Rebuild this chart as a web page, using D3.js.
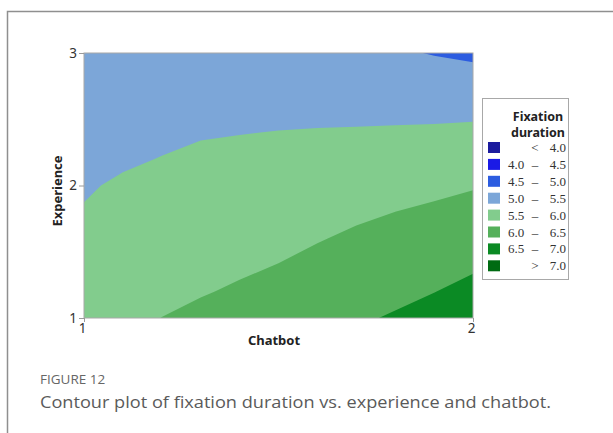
<!DOCTYPE html>
<html><head><meta charset="utf-8">
<script src="https://cdn.jsdelivr.net/npm/d3@7"></script>
<style>body{margin:0;background:#fff}</style>
</head><body>
<svg id="c" width="613" height="433"></svg>
<script>
// ---- data ----
const chatbot = [1.0,1.1,1.2,1.3,1.4,1.5,1.6,1.7,1.8,1.9,2.0];
const experience = [1.0,1.2,1.4,1.6,1.8,2.0,2.2,2.4,2.6,2.8,3.0];
// fixation[j][i] : value at experience[j], chatbot[i]
const fixation = [
 [5.83,5.915,6.003,6.09,6.18,6.27,6.36,6.445,6.54,6.64,6.72],
 [5.75,5.835,5.920,5.973,6.047,6.138,6.231,6.318,6.40,6.493,6.60],
 [5.67,5.755,5.838,5.888,5.941,6.007,6.103,6.191,6.267,6.35,6.45],
 [5.59,5.675,5.755,5.804,5.850,5.905,5.977,6.064,6.133,6.207,6.30],
 [5.51,5.596,5.673,5.719,5.759,5.805,5.862,5.933,6.001,6.064,6.14],
 [5.483,5.522,5.591,5.635,5.668,5.705,5.747,5.799,5.848,5.905,5.97],
 [5.462,5.478,5.505,5.548,5.577,5.605,5.632,5.664,5.697,5.733,5.79],
 [5.44,5.451,5.465,5.479,5.492,5.507,5.519,5.530,5.545,5.560,5.59],
 [5.42,5.424,5.427,5.426,5.420,5.413,5.405,5.394,5.383,5.373,5.37],
 [5.40,5.397,5.388,5.373,5.350,5.322,5.292,5.257,5.217,5.176,5.15],
 [5.38,5.37,5.35,5.32,5.28,5.23,5.18,5.12,5.05,4.98,4.92]
];
const thresholds = [4.0,4.5,5.0,5.5,6.0,6.5,7.0];
const legendLow  = ["", "4.0","4.5","5.0","5.5","6.0","6.5",""];
const legendSym  = ["<", "\u2013","\u2013","\u2013","\u2013","\u2013","\u2013",">"];
const legendHigh = ["4.0","4.5","5.0","5.5","6.0","6.5","7.0","7.0"];
const bandColors = ["#1b1b9e","#1a1ae6","#2c5ce0","#7ca6d8","#82cc8d","#55b05b","#0b8a24","#006b12"];
const xTicks = [1,2], yTicks = [1,2,3];

// ---- drawing ----
const svg = d3.select("#c");
const L=84, R=473, T=53, B=318;
const x = d3.scaleLinear().domain([1,2]).range([L,R]);
const y = d3.scaleLinear().domain([1,3]).range([B,T]);

// figure frame
svg.append("path").attr("d","M7.5,433V11.5H613").attr("fill","none")
  .attr("stroke","#8f8f8f").attr("stroke-width",1.5);

const n = chatbot.length, m = experience.length;
const flat = fixation.flat();
const gx = d3.scaleLinear().domain([0.5, n-0.5]).range([chatbot[0], chatbot[n-1]]);
const gy = d3.scaleLinear().domain([0.5, m-0.5]).range([experience[0], experience[m-1]]);
const proj = d3.geoTransform({point(px,py){ this.stream.point(x(gx(px)), y(gy(py))); }});
const path = d3.geoPath(proj);

svg.append("clipPath").attr("id","clip").append("rect")
  .attr("x",L).attr("y",T).attr("width",R-L).attr("height",B-T);
const g = svg.append("g").attr("clip-path","url(#clip)");
g.append("rect").attr("x",L).attr("y",T).attr("width",R-L).attr("height",B-T).attr("fill",bandColors[0]);
const cs = d3.contours().size([n,m]).thresholds(thresholds)(flat);
g.selectAll("path.band").data(cs).join("path").attr("class","band")
  .attr("d",path).attr("fill",(d,i)=>bandColors[i+1]);

svg.append("rect").attr("x",L).attr("y",T).attr("width",R-L).attr("height",B-T)
  .attr("fill","none").attr("stroke","#a8a8a8").attr("stroke-width",1);

const font = "'Noto Sans', 'Open Sans', sans-serif";
// y axis
const ya = svg.append("g").attr("transform",`translate(${L},0)`)
  .call(d3.axisLeft(y).tickValues(yTicks).tickFormat(d3.format("d")).tickSize(5).tickPadding(2));
ya.select(".domain").remove();
ya.selectAll("line").attr("stroke","#9a9a9a");
ya.selectAll("text").attr("font-family",font).attr("font-size",13.5).attr("fill","#333");
// x axis
const xa = svg.append("g").attr("transform",`translate(0,${B})`)
  .call(d3.axisBottom(x).tickValues(xTicks).tickFormat(d3.format("d")).tickSize(4).tickPadding(1));
xa.select(".domain").remove();
xa.selectAll("line").attr("stroke","#9a9a9a");
xa.selectAll("text").attr("font-family",font).attr("font-size",13.5).attr("fill","#333").attr("dx",-2);

svg.append("text").attr("x",274).attr("y",345).attr("text-anchor","middle")
  .attr("font-family",font).attr("font-weight","bold").attr("font-size",13).attr("fill","#222").text("Chatbot");
svg.append("text").attr("transform","translate(62,191) rotate(-90)").attr("text-anchor","middle")
  .attr("font-family",font).attr("font-weight","bold").attr("font-size",13).attr("fill","#222").text("Experience");

// legend
const lg = svg.append("g");
lg.append("rect").attr("x",482.5).attr("y",98.5).attr("width",86).attr("height",181)
  .attr("fill","#fff").attr("stroke","#a8a8a8");
lg.append("text").attr("x",538).attr("y",121).attr("text-anchor","middle").attr("font-family",font)
  .attr("font-weight","bold").attr("font-size",12.5).attr("fill","#222").text("Fixation");
lg.append("text").attr("x",538).attr("y",137).attr("text-anchor","middle").attr("font-family",font)
  .attr("font-weight","bold").attr("font-size",12.5).attr("fill","#222").text("duration");
const serif = "'Liberation Serif','DejaVu Serif',serif";
bandColors.forEach((c,i)=>{
  const yt = 142 + i*16.9;
  lg.append("rect").attr("x",488).attr("y",yt).attr("width",12).attr("height",11).attr("fill",c);
  lg.append("text").attr("x",508).attr("y",yt+10).attr("font-family",serif).attr("font-size",13).attr("fill","#333").text(legendLow[i]);
  lg.append("text").attr("x",535).attr("y",yt+10).attr("text-anchor","middle").attr("font-family",serif).attr("font-size",13).attr("fill","#333").text(legendSym[i]);
  lg.append("text").attr("x",566).attr("y",yt+10).attr("text-anchor","end").attr("font-family",serif).attr("font-size",13).attr("fill","#333").text(legendHigh[i]);
});

// caption
svg.append("text").attr("x",40).attr("y",384).attr("font-family","'Open Sans',sans-serif")
  .attr("font-size",13.5).attr("fill","#666").attr("font-weight",500).text("FIGURE 12");
svg.append("text").attr("x",40).attr("y",408).attr("font-family","'Open Sans',sans-serif")
  .attr("font-size",16).attr("fill","#5a5a5a").attr("font-weight",400)
  .attr("textLength",511).attr("lengthAdjust","spacingAndGlyphs")
  .text("Contour plot of fixation duration vs. experience and chatbot.");
</script>
</body></html>
